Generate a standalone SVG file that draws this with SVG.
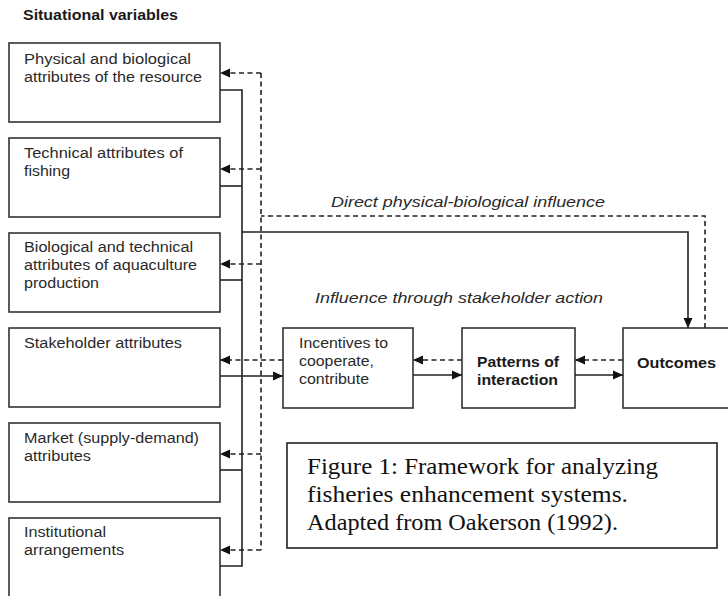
<svg xmlns="http://www.w3.org/2000/svg" width="728" height="596" viewBox="0 0 728 596">
<style>
.box{fill:#fff;stroke:#333;stroke-width:1.6}
text{font-family:"Liberation Sans",Arial,sans-serif}
.t{font-size:14px;fill:#2a2a2a}
.b{font-size:14px;font-weight:bold;fill:#1a1a1a}
.i{font-size:15px;font-style:italic;fill:#2a2a2a}
.cap{font-family:"Liberation Serif","Times New Roman",serif;font-size:23px;fill:#111}
.s{fill:none;stroke:#222;stroke-width:1.6}
.d{fill:none;stroke:#222;stroke-width:1.6;stroke-dasharray:5 3.5}
</style>
<defs>
<marker id="ah" viewBox="0 0 10 10" refX="10" refY="5" markerWidth="10" markerHeight="10" markerUnits="userSpaceOnUse" orient="auto">
<path d="M0,0.5 L10,5 L0,9.5 Z" fill="#111"/>
</marker>
</defs>
<rect width="728" height="596" fill="#fff"/>
<text x="23" y="20" class="b" textLength="155" lengthAdjust="spacingAndGlyphs">Situational variables</text>

<g id="n1"><rect class="box" x="9" y="43" width="211" height="79"/><text class="t" x="24" y="64" textLength="167" lengthAdjust="spacingAndGlyphs">Physical and biological</text><text class="t" x="24" y="82" textLength="178" lengthAdjust="spacingAndGlyphs">attributes of the resource</text></g>
<g id="n2"><rect class="box" x="9" y="138" width="211" height="79"/><text class="t" x="24" y="158" textLength="159" lengthAdjust="spacingAndGlyphs">Technical attributes of</text><text class="t" x="24" y="176" textLength="46" lengthAdjust="spacingAndGlyphs">fishing</text></g>
<g id="n3"><rect class="box" x="9" y="233" width="211" height="79"/><text class="t" x="24" y="252" textLength="169" lengthAdjust="spacingAndGlyphs">Biological and technical</text><text class="t" x="24" y="270" textLength="173" lengthAdjust="spacingAndGlyphs">attributes of aquaculture</text><text class="t" x="24" y="288" textLength="75" lengthAdjust="spacingAndGlyphs">production</text></g>
<g id="n4"><rect class="box" x="9" y="328" width="211" height="79"/><text class="t" x="24" y="348" textLength="158" lengthAdjust="spacingAndGlyphs">Stakeholder attributes</text></g>
<g id="n5"><rect class="box" x="9" y="423" width="211" height="79"/><text class="t" x="24" y="443" textLength="175" lengthAdjust="spacingAndGlyphs">Market (supply-demand)</text><text class="t" x="24" y="461" textLength="67" lengthAdjust="spacingAndGlyphs">attributes</text></g>
<g id="n6"><rect class="box" x="9" y="518" width="211" height="100"/><text class="t" x="24" y="537" textLength="82" lengthAdjust="spacingAndGlyphs">Institutional</text><text class="t" x="24" y="555" textLength="100" lengthAdjust="spacingAndGlyphs">arrangements</text></g>

<g id="n7"><rect class="box" x="283" y="328" width="130" height="80"/><text class="t" x="299" y="348" textLength="89" lengthAdjust="spacingAndGlyphs">Incentives to</text><text class="t" x="299" y="366" textLength="75" lengthAdjust="spacingAndGlyphs">cooperate,</text><text class="t" x="299" y="384" textLength="70" lengthAdjust="spacingAndGlyphs">contribute</text></g>
<g id="n8"><rect class="box" x="462" y="328" width="113" height="80"/><text class="b" x="477" y="367" textLength="82" lengthAdjust="spacingAndGlyphs">Patterns of</text><text class="b" x="477" y="385" textLength="81" lengthAdjust="spacingAndGlyphs">interaction</text></g>
<g id="n9"><rect class="box" x="623" y="328" width="120" height="80"/><text class="b" x="637" y="368" textLength="79" lengthAdjust="spacingAndGlyphs">Outcomes</text></g>

<g id="caption"><rect x="287" y="443" width="430" height="105" fill="#fff" stroke="#222" stroke-width="1.6"/><text class="cap" x="307" y="474" textLength="351" lengthAdjust="spacingAndGlyphs">Figure 1: Framework for analyzing</text><text class="cap" x="307" y="502" textLength="321" lengthAdjust="spacingAndGlyphs">fisheries enhancement systems.</text><text class="cap" x="307" y="530" textLength="311" lengthAdjust="spacingAndGlyphs">Adapted from Oakerson (1992).</text></g>

<g id="labels">
<text class="i" x="331" y="207" textLength="274" lengthAdjust="spacingAndGlyphs">Direct physical-biological influence</text>
<text class="i" x="315" y="303" textLength="288" lengthAdjust="spacingAndGlyphs">Influence through stakeholder action</text>
</g>

<g id="connectors">
<path class="s" d="M220,90 H242 V566 H220"/>
<path class="s" d="M220,186 H242"/>
<path class="s" d="M220,280 H242"/>
<path class="s" d="M220,470 H242"/>
<path class="s" d="M220,376 H283" marker-end="url(#ah)"/>
<path class="s" d="M242,232 H688 V328" marker-end="url(#ah)"/>
<path class="s" d="M413,375 H462" marker-end="url(#ah)"/>
<path class="s" d="M575,375 H623" marker-end="url(#ah)"/>
<path class="d" d="M705,328 V216 H261"/>
<path class="d" d="M261,73 V550"/>
<path class="d" d="M261,73 H220" marker-end="url(#ah)"/>
<path class="d" d="M261,169 H220" marker-end="url(#ah)"/>
<path class="d" d="M261,264 H220" marker-end="url(#ah)"/>
<path class="d" d="M283,360 H220" marker-end="url(#ah)"/>
<path class="d" d="M261,454 H220" marker-end="url(#ah)"/>
<path class="d" d="M261,550 H220" marker-end="url(#ah)"/>
<path class="d" d="M462,360 H413" marker-end="url(#ah)"/>
<path class="d" d="M623,360 H575" marker-end="url(#ah)"/>
</g>
</svg>
